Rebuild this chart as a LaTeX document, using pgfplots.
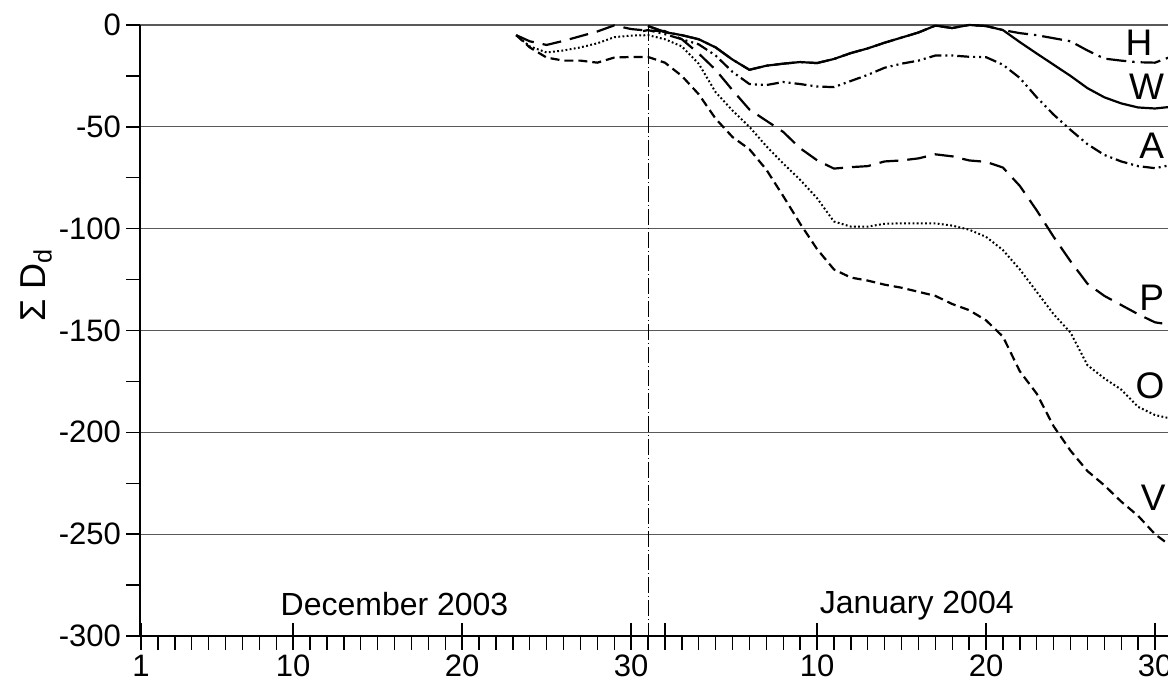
\documentclass[border=0pt]{standalone}
\usepackage{fontspec}
\setmainfont{Liberation Sans}
\usepackage{pgfplots}
\pgfplotsset{compat=1.18}
\begin{document}
\begin{tikzpicture}
\begin{axis}[
  scale only axis, width=514pt, height=305.5pt,
  xmin=0.94, xmax=61.77, ymin=-300, ymax=0,
  axis x line*=bottom, axis y line*=left,
  axis line style={line width=0.7pt, black},
  clip=false,
  xtick={1,10,20,30,32,41,51,61},
  xticklabels={1,10,20,30,,10,20,30},
  minor xtick={1,...,62},
  ytick={-300,-250,...,0},
  yticklabels={-300,-250,-200,-150,-100,-50,0},
  minor ytick={-275,-225,...,-25},
  tick align=outside,
  major tick length=7pt, minor tick length=7pt,
  tick style={black, line width=0.7pt},
  extra x ticks={1,10,20,30,32,41,51,61},
  extra x tick labels={},
  extra x tick style={xtick align=inside, major tick length=6.3pt},
  ymajorgrids, grid style={line width=0.6pt, gray!70!black},
  ticklabel style={font=\fontsize{15.5}{17}\selectfont},
  yticklabel style={xshift=1pt},
  xticklabel style={yshift=1pt},
  ylabel={Σ D\textsubscript{d}},
  ylabel style={at={(axis description cs:-0.101,0.574)}, anchor=center, font=\fontsize{18}{20}\selectfont},
  every axis plot/.append style={line width=1.1pt, black, line join=round},
]
\coordinate (bl) at (rel axis cs:0,0);
\coordinate (tr) at (rel axis cs:1,1);

\addplot[line width=0.5pt, dash pattern=on 8pt off 1.5pt on 0.5pt off 1.5pt] coordinates {(31,0) (31,-300)};

% V
\addplot[dash pattern=on 4.5pt off 2.5pt] coordinates {
(23.2,-5) (24,-11) (25,-16) (26,-17.5) (27,-17.5) (28,-18.5) (29,-16) (30,-15.7) (31,-15.7)
(32,-18.5) (33,-25) (34,-34) (35,-46) (36,-55) (37,-61) (38,-71) (39,-84) (40,-97.5)
(41,-110) (42,-120) (43,-124) (44,-125.5) (45,-127.5) (46,-129) (47,-131) (48,-133)
(49,-137) (50,-140) (51,-145) (52,-153) (53,-170) (54,-181) (55,-197) (56,-209)
(57,-219) (58,-226) (59,-234) (60,-241) (61,-250) (61.8,-255)};

% O
\addplot[line width=1pt, dash pattern=on 0.9pt off 1.2pt] coordinates {
(23.2,-5) (24,-10.5) (25,-13.5) (26,-12.5) (27,-11) (28,-9) (29,-6) (30,-5.2) (31,-5)
(32,-7) (33,-10.5) (34,-19) (35,-33) (36,-42) (37,-50) (38,-59.5) (39,-68) (40,-76)
(41,-85) (42,-96.5) (43,-99) (44,-99) (45,-97.6) (46,-97.4) (47,-97.4) (48,-97.4)
(49,-98.5) (50,-100.5) (51,-104) (52,-110.5) (53,-120) (54,-131) (55,-142) (56,-151)
(57,-167) (58,-173.5) (59,-179) (60,-187.5) (61,-191.5) (61.8,-193)};

% P
\addplot[dash pattern=on 9.5pt off 4.5pt] coordinates {
(23.2,-5) (24,-8) (25,-9.8) (26,-7.8) (27,-5.5) (28,-3.2) (29,-0.2) (30,-2) (31,-2.8)
(32,-3) (33,-7) (34,-14) (35,-22) (36,-32) (37,-41.5) (38,-47) (39,-52.5) (40,-60.5)
(41,-66.4) (42,-70.5) (43,-69.8) (44,-69.3) (45,-67) (46,-66.5) (47,-65.5) (48,-63.5)
(49,-64.5) (50,-66.5) (51,-67.2) (52,-70) (53,-79) (54,-91) (55,-104) (56,-116)
(57,-127) (58,-133) (59,-137.5) (60,-142) (61,-146) (61.8,-147)};

% A
\addplot[dash pattern=on 6pt off 2pt on 1pt off 2pt on 1pt off 2pt] coordinates {
(30.7,-3) (31,-2.5) (32,-4.5) (33,-7) (34,-9.5) (35,-15) (36,-23) (37,-29) (38,-29.5)
(39,-28) (40,-29) (41,-30.2) (42,-30.5) (43,-27.5) (44,-24.5) (45,-21) (46,-19)
(47,-17.5) (48,-15) (49,-15) (50,-15.6) (51,-15.8) (52,-19.5) (53,-26) (54,-35.5)
(55,-44) (56,-51.5) (57,-58.5) (58,-63.8) (59,-67) (60,-69.3) (61,-70.3) (61.8,-69)};

% H
\addplot[dash pattern=on 10pt off 3pt on 1.2pt off 3pt] coordinates {
(31,-0.5) (32,-3.5) (33,-5) (34,-7) (35,-11) (36,-17) (37,-22) (38,-20) (39,-19)
(40,-18.2) (41,-18.7) (42,-16.7) (43,-13.8) (44,-11.5) (45,-8.7) (46,-6.2) (47,-3.7)
(48,-0.3) (49,-1.5) (50,0) (51,-0.5) (52,-2.5) (53,-4) (54,-5) (55,-6.5) (56,-8)
(57,-12.5) (58,-16.5) (59,-17.5) (60,-18.3) (61,-18.5) (61.8,-16)};

% W
\addplot[solid] coordinates {
(31,-0.5) (32,-3.5) (33,-5) (34,-7) (35,-11) (36,-17) (37,-22) (38,-20) (39,-19)
(40,-18.2) (41,-18.7) (42,-16.7) (43,-13.8) (44,-11.5) (45,-8.7) (46,-6.2) (47,-3.7)
(48,-0.3) (49,-1.5) (50,0) (51,-0.5) (52,-2.5) (53,-8.4) (54,-14) (55,-19.5) (56,-25)
(57,-31) (58,-35.5) (59,-38.5) (60,-40.5) (61,-41) (61.8,-40.3)};

\node[font=\fontsize{18.5}{20}\selectfont] at (axis cs:60.05,-8.9) {H};
\node[font=\fontsize{18.5}{20}\selectfont] at (axis cs:60.5,-30.5) {W};
\node[font=\fontsize{18.5}{20}\selectfont] at (axis cs:60.8,-59.5) {A};
\node[font=\fontsize{18.5}{20}\selectfont] at (axis cs:60.8,-133.8) {P};
\node[font=\fontsize{18.5}{20}\selectfont] at (axis cs:60.7,-177) {O};
\node[font=\fontsize{18.5}{20}\selectfont] at (axis cs:60.9,-232) {V};

\node[font=\fontsize{16}{18}\selectfont] at (axis cs:16,-284.3) {December 2003};
\node[font=\fontsize{16}{18}\selectfont] at (axis cs:46.9,-285) {January 2004};
\end{axis}
\pgfresetboundingbox
\useasboundingbox ([xshift=-70pt,yshift=-23pt]bl) rectangle ([yshift=12.5pt]tr);
\end{tikzpicture}
\end{document}
